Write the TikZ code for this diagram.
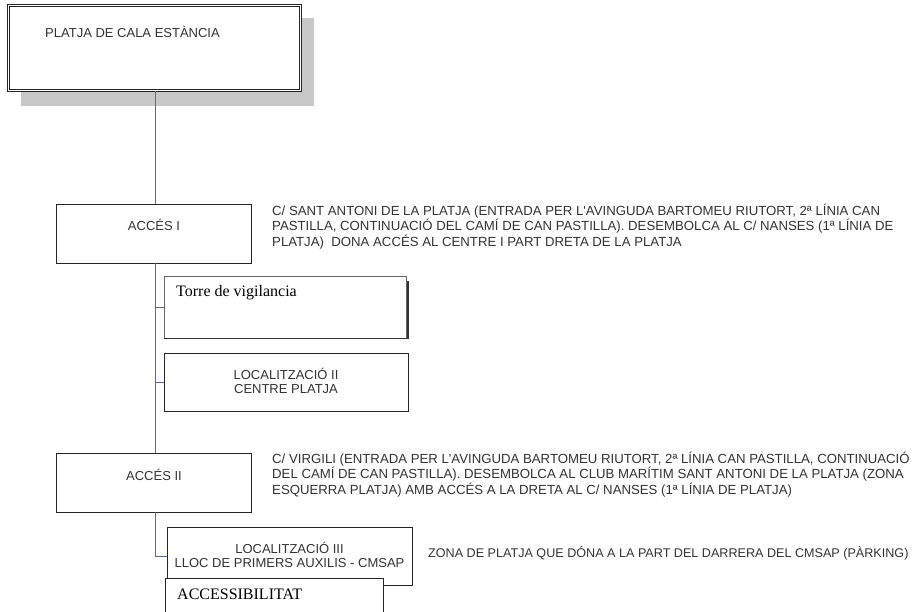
\documentclass[tikz,border=0pt]{standalone}
\usepackage{fontspec}
\setmainfont{Liberation Serif}
\newfontfamily\arial{Liberation Sans}
\definecolor{linkc}{HTML}{5A6A9E}
\definecolor{shadowc}{HTML}{C8C8C8}
\definecolor{inkc}{HTML}{333333}
\begin{document}
\begin{tikzpicture}[x=1pt,y=-1pt,
  box/.style={draw=black!85, line width=0.9pt, fill=white, anchor=north west, inner sep=0pt, outer sep=0pt},
  conn/.style={draw=linkc, line width=0.9pt},
  lbl/.style={font=\arial\fontsize{13}{14.5}\selectfont, text=inkc, inner sep=0pt},
  desc/.style={lbl, font=\arial\fontsize{13.2}{13.5}\selectfont, align=left, anchor=north west},
  serif/.style={font=\fontsize{16}{18}\selectfont, text=black, inner sep=0pt, anchor=west}
]
\useasboundingbox (0,0) rectangle (916,611);

% title box with shadow
\fill[shadowc] (21,18) rectangle (314,106);
\node[box, minimum width=292pt, minimum height=85pt, double, double distance=1.6pt, line width=0.7pt] (top) at (8.5,5.5) {};
\node[lbl, anchor=west] (toptxt) at (45,32) {PLATJA DE CALA ESTÀNCIA};

% access I
\node[box, minimum width=195pt, minimum height=59pt] (acc1) at (56,204) {};
\node[lbl] (acc1txt) at (154,225) {ACCÉS I};
\node[desc] (desc1) at (272,204) {C/ SANT ANTONI DE LA PLATJA (ENTRADA PER L'AVINGUDA BARTOMEU RIUTORT, 2ª LÍNIA CAN\\PASTILLA, CONTINUACIÓ DEL CAMÍ DE CAN PASTILLA). DESEMBOLCA AL C/ NANSES (1ª LÍNIA DE\\PLATJA)\ \ DONA ACCÉS AL CENTRE I PART DRETA DE LA PLATJA};

% torre
\node[box, draw=black!60, line width=0.6pt, minimum width=242pt, minimum height=62pt] (torre) at (164,276) {};
\draw[black!80, line width=1.2pt] (408,281) -- (408,338.5) -- (164,338.5);
\node[serif] (torretxt) at (176,293) {Torre de vigilancia};

% localitzacio II
\node[box, minimum width=244pt, minimum height=58pt] (loc2) at (164,353) {};
\node[lbl, align=center] (loc2txt) at (286,381) {LOCALITZACIÓ II\\CENTRE PLATJA};

% access II
\node[box, minimum width=195pt, minimum height=59pt] (acc2) at (56,453) {};
\node[lbl] (acc2txt) at (154,475) {ACCÉS II};
\node[desc] (desc2) at (272,452) {C/ VIRGILI (ENTRADA PER L'AVINGUDA BARTOMEU RIUTORT, 2ª LÍNIA CAN PASTILLA, CONTINUACIÓ\\DEL CAMÍ DE CAN PASTILLA). DESEMBOLCA AL CLUB MARÍTIM SANT ANTONI DE LA PLATJA (ZONA\\ESQUERRA PLATJA) AMB ACCÉS A LA DRETA AL C/ NANSES (1ª LÍNIA DE PLATJA)};

% localitzacio III
\node[box, minimum width=245pt, minimum height=58pt] (loc3) at (167,527) {};
\node[lbl, align=center] (loc3txt) at (289.5,555) {LOCALITZACIÓ III\\LLOC DE PRIMERS AUXILIS - CMSAP};
\node[lbl, anchor=west, font=\arial\fontsize{12.6}{14}\selectfont] (zona) at (428,553) {ZONA DE PLATJA QUE DÓNA A LA PART DEL DARRERA DEL CMSAP (PÀRKING)};

% accessibilitat
\node[box, minimum width=218pt, minimum height=45pt] (accs) at (165,578) {};
\node[serif] (accstxt) at (177,594) {ACCESSIBILITAT};

% connectors
\coordinate (spine) at (155,0);
\draw[conn] (top.south -| spine) -- (acc1.north -| spine);
\draw[conn] (acc1.south -| spine) -- (acc2.north -| spine);
\draw[conn] (spine |- torre.west) -- (torre.west);
\draw[conn] (spine |- loc2.west) -- (loc2.west);
\draw[conn] (acc2.south -| spine) |- (loc3.west);
\end{tikzpicture}
\end{document}
